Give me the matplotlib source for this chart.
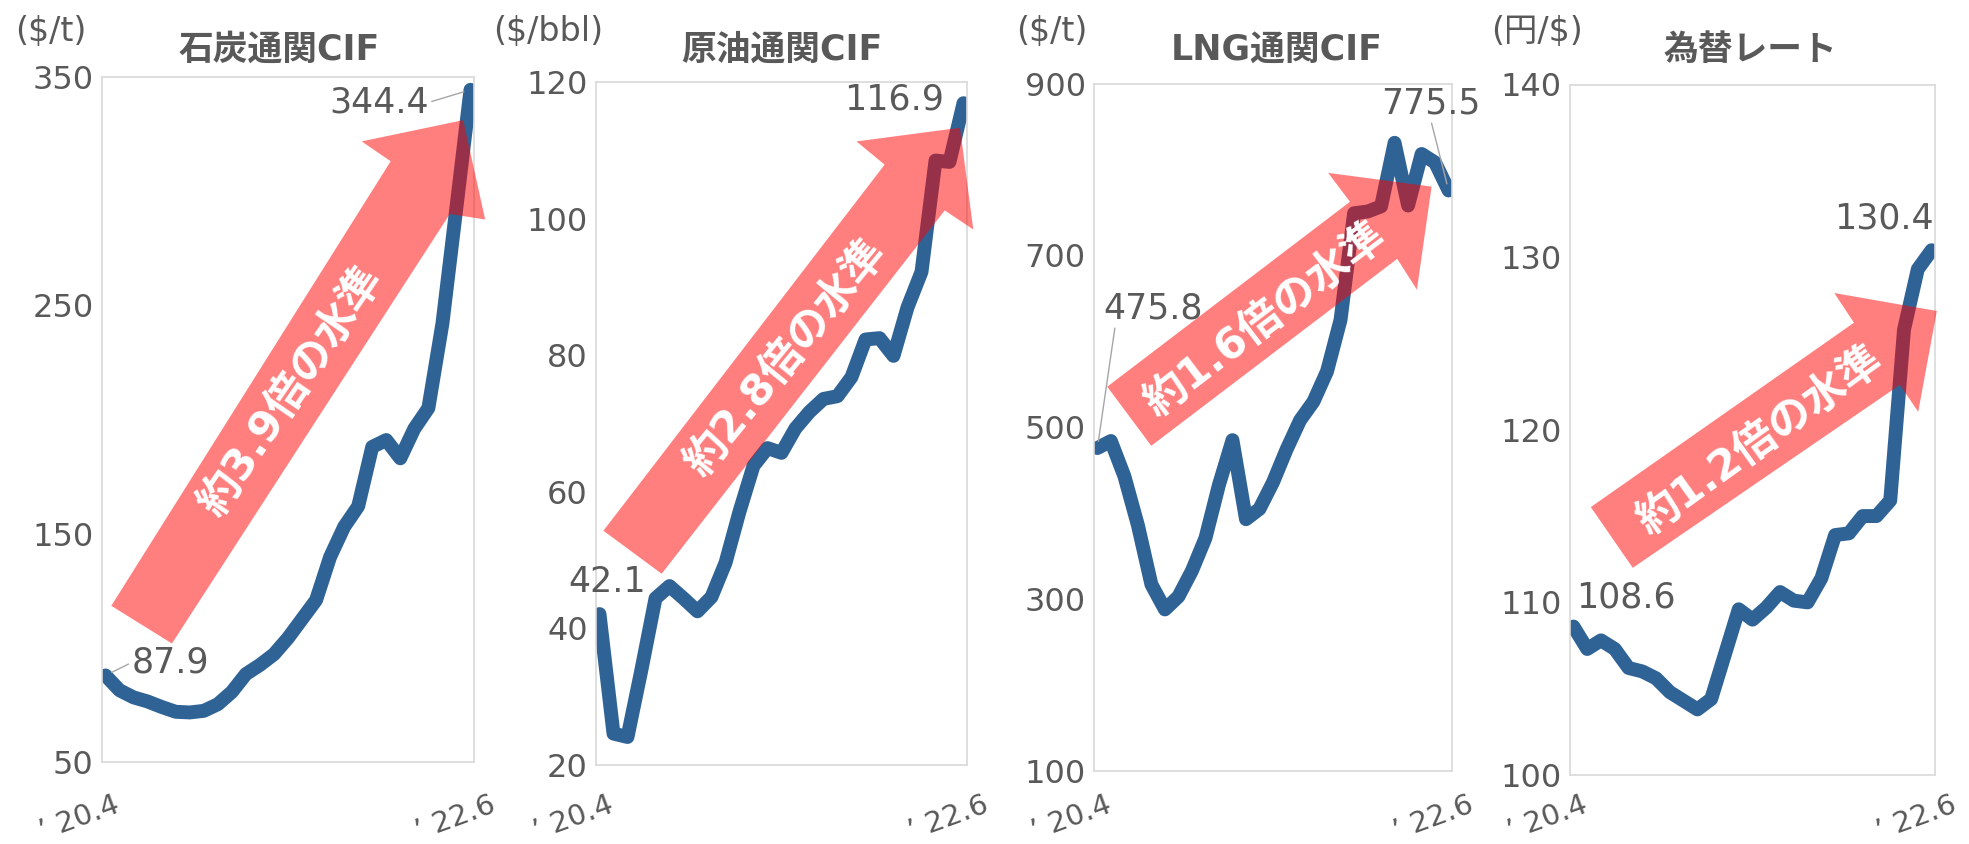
import numpy as np
import matplotlib.pyplot as plt
from matplotlib.patches import Polygon

plt.rcParams['font.family'] = ['DejaVu Sans', 'Noto Sans CJK JP']

# 月次データ（'20.4 ～ '22.6）
coal = [87.9, 81.4, 78.3, 76.5, 74.1, 72.0, 71.7, 72.4, 75.3, 80.7, 88.5, 92.5, 97.2, 104.3,
        112.6, 120.9, 139.8, 153.0, 162.0, 188.0, 191.0, 183.0, 196.0, 205.0, 242.0, 293.0, 344.4]
crude = [42.1, 24.6, 24.1, 34.0, 44.4, 46.2, 44.4, 42.5, 44.6, 49.6, 57.1, 63.8, 66.4, 65.7,
         69.3, 71.7, 73.6, 74.0, 76.8, 82.3, 82.5, 79.9, 87.0, 92.2, 108.5, 108.3, 116.9]
lng = [475.8, 484, 443, 386, 317, 288, 303, 333, 371, 433, 485, 393, 405, 436,
       474, 508, 530, 565, 625, 749, 751, 757, 831, 758, 818, 808, 775.5]
fx = [108.6, 107.3, 107.8, 107.3, 106.2, 106.0, 105.6, 104.8, 104.3, 103.8, 104.4, 107.0, 109.6, 109.0,
      109.7, 110.6, 110.1, 110.0, 111.4, 113.9, 114.0, 115.0, 115.0, 115.9, 125.8, 129.3, 130.4]

titles = ['石炭通関CIF', '原油通関CIF', 'LNG通関CIF', '為替レート']
units = ['($/t)', '($/bbl)', '($/t)', '(円/$)']
yticks = [[50, 150, 250, 350], [20, 40, 60, 80, 100, 120],
          [100, 300, 500, 700, 900], [100, 110, 120, 130, 140]]
x_labels = ['’ 20.4', '’ 22.6']
arrow_texts = ['約3.9倍の水準', '約2.8倍の水準', '約1.6倍の水準', '約1.2倍の水準']
series = [coal, crude, lng, fx]

GRAY = '#595959'
BLUE = '#2F6396'
W, H = 1969, 844

# レイアウト（ピクセル）
ax_px = [(102, 77, 474, 762), (596, 82, 967, 765), (1094, 83.5, 1452, 771), (1570, 84.5, 1935, 775)]
title_x = [279, 782, 1277, 1750]
unit_x = [51, 548, 1052, 1537]

# 矢印（axes座標）
arrows = [
    [(0.025, 0.228), (0.776, 0.877), (0.698, 0.906), (0.971, 0.937), (1.03, 0.792), (0.935, 0.80), (0.188, 0.173)],
    [(0.020, 0.343), (0.778, 0.879), (0.702, 0.913), (0.981, 0.933), (1.017, 0.784), (0.94, 0.812), (0.177, 0.280)],
    [(0.037, 0.559), (0.715, 0.828), (0.654, 0.870), (0.943, 0.850), (0.902, 0.700), (0.847, 0.745), (0.160, 0.473)],
    [(0.057, 0.388), (0.778, 0.655), (0.724, 0.698), (1.005, 0.672), (0.954, 0.526), (0.904, 0.565), (0.172, 0.300)],
]
arrow_txt_pos = [(0.509, 0.541, 55.6), (0.512, 0.596, 50.7), (0.480, 0.656, 37.3), (0.522, 0.483, 35.7)]

# 始点・終点ラベル位置 (axes座標) と引き出し線
lab_first = [(0.183, 0.145, (0, 0.5)), (0.031, 0.268, None), (0.165, 0.673, (0.12, 0)), (0.153, 0.257, None)]
lab_last = [(0.745, 0.963, (1, 0.5)), (0.803, 0.974, None), (0.941, 0.971, (0.5, 0)), (0.860, 0.806, None)]

fig = plt.figure(figsize=(W / 100, H / 100), dpi=100)

for k, vals in enumerate(series):
    x0, y0, x1, y1 = ax_px[k]
    ax = fig.add_axes([x0 / W, 1 - y1 / H, (x1 - x0) / W, (y1 - y0) / H])
    x = np.arange(len(vals))
    ax.plot(x, vals, color=BLUE, lw=10, solid_capstyle='round', solid_joinstyle='round', zorder=2)
    ax.set_xlim(-0.25, len(vals) - 0.75)
    ax.set_ylim(yticks[k][0], yticks[k][-1])
    ax.set_yticks(yticks[k])
    ax.set_xticks([])
    ax.tick_params(axis='y', length=0, labelsize=23, labelcolor=GRAY, pad=6)
    for s in ax.spines.values():
        s.set_color('#D9D9D9')
        s.set_linewidth(1.2)

    ax.add_patch(Polygon(arrows[k], closed=True, transform=ax.transAxes,
                         facecolor=(1, 0, 0, 0.5), edgecolor='none', zorder=3, clip_on=False))
    tx, ty, ang = arrow_txt_pos[k]
    ax.text(tx, ty, arrow_texts[k], transform=ax.transAxes, rotation=ang, rotation_mode='anchor',
            ha='center', va='center', color='white', fontsize=31, fontweight='bold', zorder=4)

    # データラベル
    for idx, (lx, ly, rel) in [(0, lab_first[k]), (len(vals) - 1, lab_last[k])]:
        kw = {}
        if rel is not None:
            kw['arrowprops'] = dict(arrowstyle='-', color='#A6A6A6', lw=1, relpos=rel, shrinkA=0, shrinkB=5)
        ax.annotate(f'{vals[idx]:.1f}', xy=(idx, vals[idx]), xytext=(lx, ly), textcoords='axes fraction',
                    ha='center', va='center', fontsize=25, color=GRAY, zorder=5, **kw)

    # 横軸ラベル
    for idx, lab, dx in [(0, x_labels[0], 16), (len(vals) - 1, x_labels[1], 27)]:
        ax.annotate(lab, xy=(idx, 1 - 812 / H), xycoords=('data', 'figure fraction'),
                    xytext=(dx, 0), textcoords='offset pixels', ha='right', va='baseline',
                    rotation=20, rotation_mode='anchor', fontsize=21, color=GRAY,
                    annotation_clip=False)

    fig.text(title_x[k] / W, 1 - 50 / H, titles[k], ha='center', va='center',
             fontsize=25, fontweight='bold', color=GRAY)
    fig.text(unit_x[k] / W, 1 - 32 / H, units[k], ha='center', va='center',
             fontsize=24, color=GRAY)

fig.savefig('out.png', dpi=100)
